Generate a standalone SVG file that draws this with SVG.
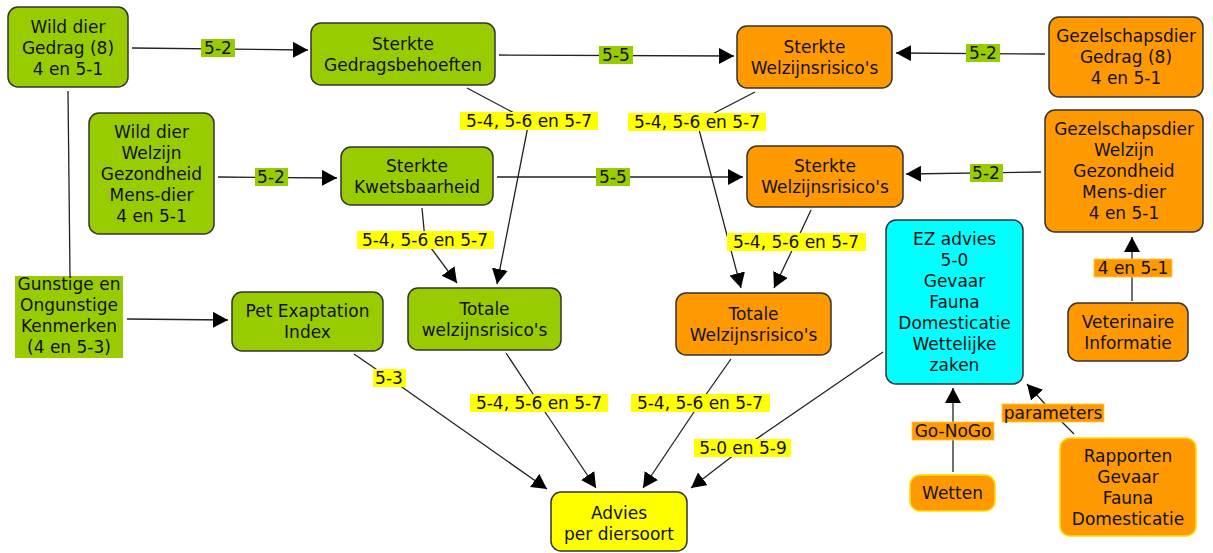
<svg xmlns="http://www.w3.org/2000/svg" width="1213" height="553" viewBox="0 0 1213 553">
<style>
text{font-family:"DejaVu Sans","Verdana",sans-serif;font-size:17px;fill:#111;text-anchor:middle}
.box{stroke:#333;stroke-width:1.5}
.g{fill:#99cc00}.o{fill:#ff9900}.y{fill:#ffff00}.c{fill:#00ffff}
.yb{stroke:#ffdd00;stroke-width:1.5}
.ln{fill:none;stroke:#222;stroke-width:1.3}
.lg{fill:#99cc00}.ly{fill:#ffff00}.lo{fill:#ff9900;stroke:#ffcc33;stroke-width:0.8}
</style>
<defs>
<marker id="arr" markerUnits="userSpaceOnUse" markerWidth="16" markerHeight="17" refX="15" refY="8" orient="auto">
<path d="M0,0 L15,8 L0,16 Z" fill="#000"/>
</marker>
</defs>
<g id="connectors">
<path class="ln" d="M132,48 L308,50" marker-end="url(#arr)"/>
<path class="ln" d="M499,55 L734,56" marker-end="url(#arr)"/>
<path class="ln" d="M1045,54 L896,53" marker-end="url(#arr)"/>
<path class="ln" d="M218,177 L337,178" marker-end="url(#arr)"/>
<path class="ln" d="M497,177 L743,177" marker-end="url(#arr)"/>
<path class="ln" d="M1041,172 L906,174" marker-end="url(#arr)"/>
<path class="ln" d="M467,88 L529,121 L497,284" marker-end="url(#arr)"/>
<path class="ln" d="M755,92 L697,122 L741,288" marker-end="url(#arr)"/>
<path class="ln" d="M422,208 L425,240 L457,283" marker-end="url(#arr)"/>
<path class="ln" d="M811,210 L796,242 L774,288" marker-end="url(#arr)"/>
<path class="ln" d="M68,91 L70,276"/>
<path class="ln" d="M127,319 L228,320" marker-end="url(#arr)"/>
<path class="ln" d="M354,354 L389,378 L547,489" marker-end="url(#arr)"/>
<path class="ln" d="M506,353 L539,403 L596,488" marker-end="url(#arr)"/>
<path class="ln" d="M731,359 L700,403 L643,488" marker-end="url(#arr)"/>
<path class="ln" d="M883,352 L743,448 L691,488" marker-end="url(#arr)"/>
<path class="ln" d="M953,472 L953,388" marker-end="url(#arr)"/>
<path class="ln" d="M1074,434 L1053,413 L1027,384" marker-end="url(#arr)"/>
<path class="ln" d="M1132,301 L1132,237" marker-end="url(#arr)"/>
<g id="labels">
<rect class="lg" x="201" y="39" width="34" height="18"/><text x="218" y="54">5-2</text>
<rect class="lg" x="599" y="46" width="34" height="18"/><text x="616" y="61">5-5</text>
<rect class="lg" x="966" y="44" width="34" height="18"/><text x="983" y="59">5-2</text>
<rect class="lg" x="255" y="168" width="33" height="18"/><text x="271" y="183">5-2</text>
<rect class="lg" x="596" y="168" width="34" height="18"/><text x="613" y="183">5-5</text>
<rect class="lg" x="970" y="164" width="33" height="18"/><text x="986" y="179">5-2</text>
<rect class="ly" x="460" y="112" width="138" height="18"/><text x="529" y="127">5-4, 5-6 en 5-7</text>
<rect class="ly" x="628" y="113" width="138" height="18"/><text x="697" y="128">5-4, 5-6 en 5-7</text>
<rect class="ly" x="357" y="231" width="137" height="18"/><text x="425" y="246">5-4, 5-6 en 5-7</text>
<rect class="ly" x="727" y="233" width="139" height="18"/><text x="796" y="248">5-4, 5-6 en 5-7</text>
<rect class="ly" x="373" y="369" width="33" height="18"/><text x="389" y="384">5-3</text>
<rect class="ly" x="470" y="394" width="138" height="18"/><text x="539" y="409">5-4, 5-6 en 5-7</text>
<rect class="ly" x="631" y="394" width="139" height="18"/><text x="700" y="409">5-4, 5-6 en 5-7</text>
<rect class="ly" x="694" y="439" width="97" height="18"/><text x="743" y="454">5-0 en 5-9</text>
<rect class="lo" x="912" y="422" width="82" height="18"/><text x="953" y="437">Go-NoGo</text>
<rect class="lo" x="1002" y="404" width="102" height="18"/><text x="1053" y="419">parameters</text>
<rect class="lo" x="1094" y="259" width="78" height="18"/><text x="1133" y="274">4 en 5-1</text>
</g>
</g>
<g id="n-wild-gedrag"><rect class="box g" x="8" y="7" width="120" height="80" rx="10"/><text x="68" y="33">Wild dier<tspan x="68" dy="21">Gedrag (8)</tspan><tspan x="68" dy="21">4 en 5-1</tspan></text></g>
<g id="n-sterkte-gedrag"><rect class="box g" x="311" y="23" width="184" height="62" rx="10"/><text x="403" y="49.5">Sterkte<tspan x="403" dy="21">Gedragsbehoeften</tspan></text></g>
<g id="n-wild-welzijn"><rect class="box g" x="89" y="113" width="125" height="121" rx="10"/><text x="151.5" y="137.5">Wild dier<tspan x="151.5" dy="21">Welzijn</tspan><tspan x="151.5" dy="21">Gezondheid</tspan><tspan x="151.5" dy="21">Mens-dier</tspan><tspan x="151.5" dy="21">4 en 5-1</tspan></text></g>
<g id="n-kwetsbaar"><rect class="box g" x="341" y="147" width="152" height="58" rx="10"/><text x="417" y="171.5">Sterkte<tspan x="417" dy="21">Kwetsbaarheid</tspan></text></g>
<g id="n-welzijn-top"><rect class="box o" x="737" y="26" width="155" height="62" rx="10"/><text x="814.5" y="52.5">Sterkte<tspan x="814.5" dy="21">Welzijnsrisico's</tspan></text></g>
<g id="n-gezel-gedrag"><rect class="box o" x="1049" y="17" width="154" height="80" rx="10"/><text x="1126" y="42">Gezelschapsdier<tspan x="1126" dy="21">Gedrag (8)</tspan><tspan x="1126" dy="21">4 en 5-1</tspan></text></g>
<g id="n-welzijn-mid"><rect class="box o" x="747" y="146" width="156" height="61" rx="10"/><text x="825" y="172">Sterkte<tspan x="825" dy="21">Welzijnsrisico's</tspan></text></g>
<g id="n-gezel-welzijn"><rect class="box o" x="1045" y="110" width="158" height="122" rx="10"/><text x="1124" y="135">Gezelschapsdier<tspan x="1124" dy="21">Welzijn</tspan><tspan x="1124" dy="21">Gezondheid</tspan><tspan x="1124" dy="21">Mens-dier</tspan><tspan x="1124" dy="21">4 en 5-1</tspan></text></g>
<g id="n-ez"><rect class="box c" x="886" y="220" width="137" height="164" rx="10"/><text x="954.5" y="245">EZ advies<tspan x="954.5" dy="21">5-0</tspan><tspan x="954.5" dy="21">Gevaar</tspan><tspan x="954.5" dy="21">Fauna</tspan><tspan x="954.5" dy="21">Domesticatie</tspan><tspan x="954.5" dy="21">Wettelijke</tspan><tspan x="954.5" dy="21">zaken</tspan></text></g>
<g id="n-gunstig"><rect class="lg" x="15" y="276" width="108" height="82"/><text x="69" y="290">Gunstige en<tspan x="69" dy="21">Ongunstige</tspan><tspan x="69" dy="21">Kenmerken</tspan><tspan x="69" dy="21">(4 en 5-3)</tspan></text></g>
<g id="n-pet"><rect class="box g" x="232" y="292" width="151" height="59" rx="10"/><text x="307.5" y="317">Pet Exaptation<tspan x="307.5" dy="21">Index</tspan></text></g>
<g id="n-totaal-groen"><rect class="box g" x="408" y="288" width="153" height="62" rx="10"/><text x="484.5" y="314.5">Totale<tspan x="484.5" dy="21">welzijnsrisico's</tspan></text></g>
<g id="n-totaal-oranje"><rect class="box o" x="676" y="293" width="155" height="62" rx="10"/><text x="753.5" y="319.5">Totale<tspan x="753.5" dy="21">Welzijnsrisico's</tspan></text></g>
<g id="n-veterinair"><rect class="box o" x="1068" y="303" width="120" height="58" rx="10"/><text x="1128" y="327.5">Veterinaire<tspan x="1128" dy="21">Informatie</tspan></text></g>
<g id="n-wetten"><rect class="o yb" x="910" y="475" width="85" height="36" rx="10"/><text x="952.5" y="499">Wetten</text></g>
<g id="n-rapporten"><rect class="o yb" x="1060" y="438" width="136" height="98" rx="10"/><text x="1128" y="461.5">Rapporten<tspan x="1128" dy="21">Gevaar</tspan><tspan x="1128" dy="21">Fauna</tspan><tspan x="1128" dy="21">Domesticatie</tspan></text></g>
<g id="n-advies"><rect class="box y" x="551" y="492" width="136" height="59" rx="10"/><text x="619" y="519">Advies<tspan x="619" dy="21">per diersoort</tspan></text></g>
</svg>
